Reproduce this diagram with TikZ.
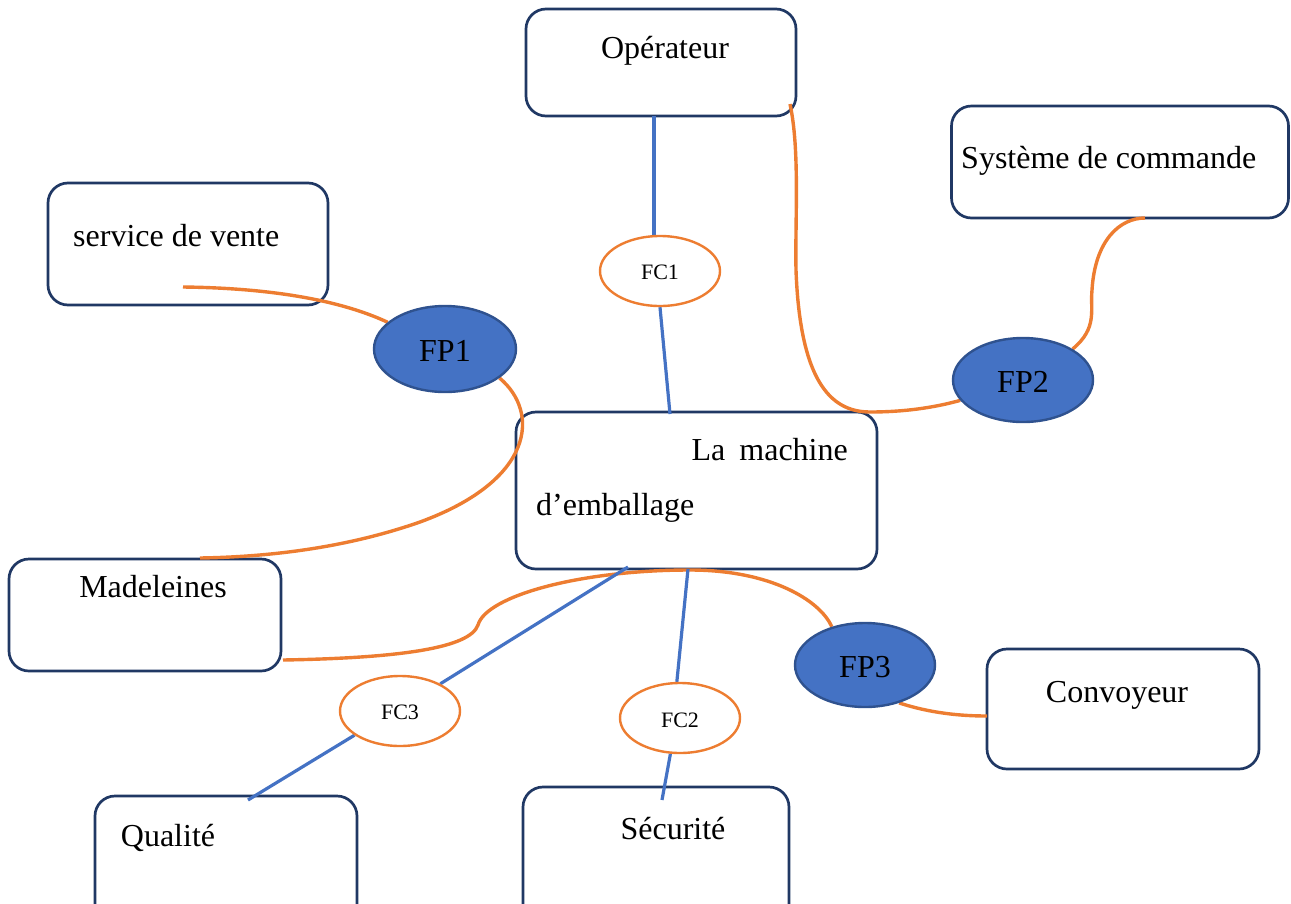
\documentclass[tikz,border=0pt]{standalone}
\usepackage{fontspec}
\setmainfont{Liberation Serif}
\usetikzlibrary{shapes.geometric}
\pgfdeclarelayer{fg}
\pgfsetlayers{main,fg}
\definecolor{navy}{HTML}{203864}
\definecolor{fpblue}{HTML}{4472C4}
\definecolor{fpedge}{HTML}{2F528F}
\definecolor{orng}{HTML}{ED7D31}
\begin{document}
\begin{tikzpicture}[x=1pt,y=-1pt,
  box/.style={draw=navy,line width=2.7pt,rounded corners=20pt,fill=white,inner sep=0pt},
  fp/.style={ellipse,draw=fpedge,line width=2.4pt,fill=fpblue,inner sep=0pt,minimum width=142pt,minimum height=86pt},
  fc/.style={ellipse,draw=orng,line width=2.4pt,fill=white,inner sep=0pt,minimum width=120pt,minimum height=70pt},
  txt/.style={inner sep=0pt,font=\fontsize{32}{38}\selectfont},
  fptxt/.style={inner sep=0pt,font=\fontsize{32}{38}\selectfont},
  fctxt/.style={inner sep=0pt,font=\fontsize{22}{26}\selectfont},
  oline/.style={draw=orng,line width=3.4pt},
  bline/.style={draw=fpblue,line width=3.2pt}]
\useasboundingbox (0,0) rectangle (1291,903);
\clip (0,0) rectangle (1291,903);
% boxes
\node[box,minimum width=270pt,minimum height=107pt] (op) at (661,62.5) {};
\node[box,minimum width=337pt,minimum height=112pt] (sys) at (1120,162) {};
\node[box,minimum width=280pt,minimum height=122pt] (sv) at (188,244) {};
\node[box,minimum width=361pt,minimum height=157pt] (mach) at (696.5,490.5) {};
\node[box,minimum width=272pt,minimum height=112pt] (mad) at (145,615) {};
\node[box,minimum width=272pt,minimum height=120pt] (conv) at (1123,709) {};
\node[box,minimum width=262pt,minimum height=150pt] (qual) at (226,871) {};
\node[box,minimum width=266pt,minimum height=150pt] (sec) at (656,862) {};
% texts
\node[txt,anchor=base] (topT) at (665,58) {Opérateur};
\node[txt,anchor=base west] (sysT) at (961,168) {Système de commande};
\node[txt,anchor=base west] (svT) at (73,246) {service de vente};
\node[txt,anchor=base east] (machT1) at (848,460) {La\hspace{14pt}machine};
\node[txt,anchor=base west] (machT2) at (536,515) {d’emballage};
\node[txt,anchor=base] (madT) at (153,597) {Madeleines};
\node[txt,anchor=base] (convT) at (1117,702) {Convoyeur};
\node[txt,anchor=base] (qualT) at (168,846) {Qualité};
\node[txt,anchor=base] (secT) at (673,839) {Sécurité};
% ellipses (foreground)
\begin{pgfonlayer}{fg}
\node[fp] (fp1) at (445,349) {};
\node[fptxt,anchor=base] (fp1T) at (445,361) {FP1};
\node[fp,minimum width=140pt,minimum height=84pt] (fp2) at (1023,380) {};
\node[fptxt,anchor=base] (fp2T) at (1023,392) {FP2};
\node[fp,minimum width=140pt,minimum height=84pt] (fp3) at (865,665) {};
\node[fptxt,anchor=base] (fp3T) at (865,677) {FP3};
\node[fc] (fc1) at (660,271) {};
\node[fctxt,anchor=base] (fc1T) at (660,279) {FC1};
\node[fc] (fc3) at (400,711) {};
\node[fctxt,anchor=base] (fc3T) at (400,719) {FC3};
\node[fc] (fc2) at (680,718) {};
\node[fctxt,anchor=base] (fc2T) at (680,727) {FC2};
\end{pgfonlayer}
% free-end coordinates
\coordinate (svE) at (183,287);
\coordinate (madTop) at (200,558);
\coordinate (opE) at (790,104);
\coordinate (sysE) at (1145,218);
\coordinate (madE) at (283,660);
\coordinate (convE) at (987,716);
\coordinate (opB) at (654,116);
\coordinate (machTop) at (670,414);
\coordinate (machB1) at (628,567);
\coordinate (machB2) at (688,569);
\coordinate (qualTop) at (248,800);
\coordinate (secTop) at (662,800);
% orange curves
\draw[oline] (svE) .. controls (270,288) and (340,300) .. (fp1.155);
\draw[oline] (fp1.332) .. controls (540,412) and (535,480) .. (420,522) .. controls (340,550) and (260,557) .. (madTop);
\draw[oline] (opE) .. controls (800,150) and (795,220) .. (796,270) .. controls (800,380) and (830,412) .. (870,412) .. controls (910,412) and (940,406) .. (fp2.198);
\draw[oline] (fp2.32) .. controls (1098,328) and (1090,310) .. (1092,290) .. controls (1095,240) and (1120,218) .. (sysE);
\draw[oline] (madE) .. controls (400,658) and (470,648) .. (478,625) .. controls (486,596) and (580,570) .. (690,570) .. controls (770,570) and (820,600) .. (fp3.131);
\draw[oline] (fp3.312) .. controls (930,713) and (960,716) .. (convE);
% blue lines
\draw[bline] (opB) -- (fc1.north -| opB);
\draw[bline] (fc1.south) -- (machTop);
\draw[bline] (fc3.34) -- (machB1);
\draw[bline] (fc3.208) -- (qualTop);
\draw[bline] (machB2) -- (fc2.95);
\draw[bline] (fc2.255) -- (secTop);
\end{tikzpicture}
\end{document}
